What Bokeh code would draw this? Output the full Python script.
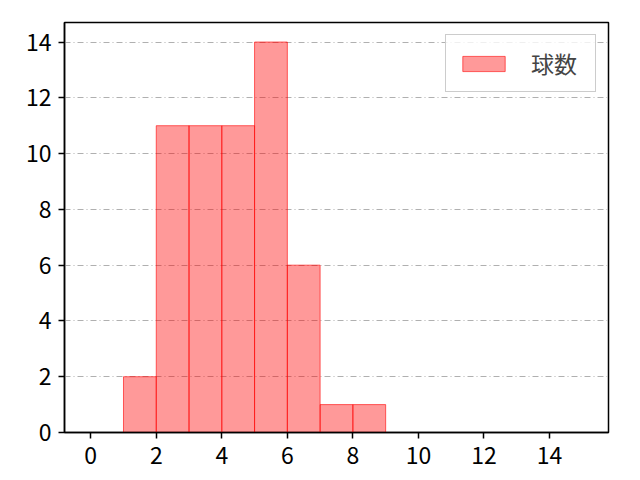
from bokeh.plotting import figure
from bokeh.models import Range1d, FixedTicker, Legend, LegendItem
from bokeh.embed import file_html
from bokeh.resources import INLINE

bin_left = [1, 2, 3, 4, 5, 6, 7, 8]
bin_right = [2, 3, 4, 5, 6, 7, 8, 9]
counts = [2, 11, 11, 11, 14, 6, 1, 1]
x_ticks = [0, 2, 4, 6, 8, 10, 12, 14]
y_ticks = [0, 2, 4, 6, 8, 10, 12, 14]
series_name = "球数"

FONT = "Noto Sans CJK JP"

p = figure(width=624, height=472, output_backend="svg", toolbar_location=None,
           x_range=Range1d(-0.8, 15.8), y_range=Range1d(0, 14.7))
p.min_border_left = 64
p.min_border_right = 16
p.min_border_top = 22
p.min_border_bottom = 40

r = p.quad(left=bin_left, right=bin_right, bottom=0, top=counts,
           fill_color="#ff0000", fill_alpha=0.4, line_color="#ff0000", line_alpha=0.6, line_width=1)

p.xaxis.ticker = FixedTicker(ticks=x_ticks)
p.yaxis.ticker = FixedTicker(ticks=y_ticks)
for ax in (p.xaxis[0], p.yaxis[0]):
    ax.major_label_text_font = FONT
    ax.major_label_text_font_size = "23px"
    ax.major_label_text_color = "#000000"
    ax.axis_line_color = "#000000"
    ax.axis_line_width = 1.5
    ax.major_tick_line_color = "#000000"
    ax.major_tick_line_width = 1.5
    ax.major_tick_out = 6
    ax.major_tick_in = 0
    ax.minor_tick_line_color = None
p.xaxis.major_label_standoff = 8
p.yaxis.major_label_standoff = 7

p.xgrid.grid_line_color = None
p.ygrid.grid_line_color = "#b0b0b0"
p.ygrid.grid_line_dash = "6 3 1 3"
p.ygrid.grid_line_width = 1
p.ygrid.level = "underlay"

p.outline_line_color = "#000000"
p.outline_line_width = 1.5
p.background_fill_color = "white"
p.border_fill_color = "white"

legend = Legend(items=[LegendItem(label=series_name, renderers=[r])], location="top_right")
legend.label_text_font = FONT
legend.label_text_font_size = "23px"
legend.glyph_width = 53
legend.glyph_height = 19
legend.label_height = 19
legend.label_width = 53
legend.label_standoff = 21
legend.padding = 11
legend.margin = 12
legend.spacing = 0
legend.border_line_color = "#cccccc"
legend.border_line_alpha = 1
legend.background_fill_alpha = 0.8
p.add_layout(legend)

open("out.html", "w").write(file_html(p, INLINE))
